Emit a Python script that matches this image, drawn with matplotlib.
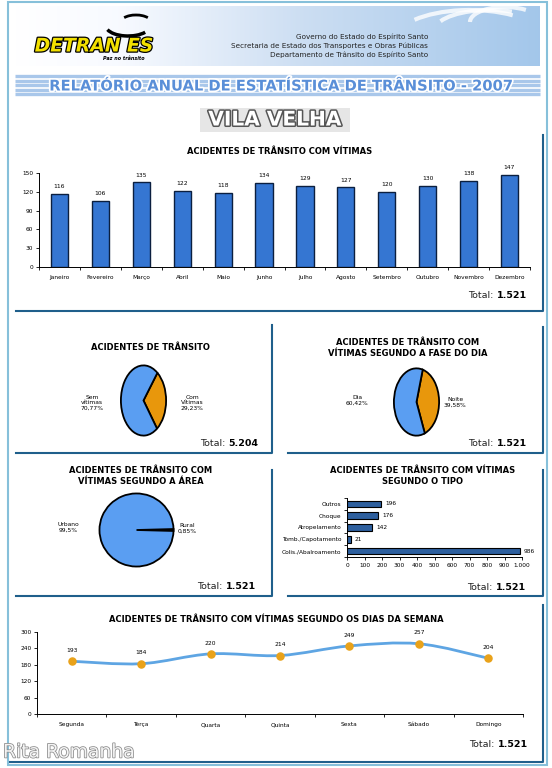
import numpy as np
import matplotlib
matplotlib.use('Agg')
import matplotlib.pyplot as plt
import matplotlib.patheffects as pe
from matplotlib.path import Path
from matplotlib.patches import PathPatch, Rectangle, Arc

W, H = 552, 768

# acidentes de transito com vitimas por mes
meses = ['Janeiro', 'Fevereiro', 'Março', 'Abril', 'Maio', 'Junho', 'Julho',
         'Agosto', 'Setembro', 'Outubro', 'Novembro', 'Dezembro']
vitimas_mes = [116, 106, 135, 122, 118, 134, 129, 127, 120, 130, 138, 147]

# acidentes de transito (%)
acid_labels = ['Com\nVítimas', 'Sem\nvítimas']
acid_pct = [29.23, 70.77]

# fase do dia (%)
fase_labels = ['Noite', 'Dia']
fase_pct = [39.58, 60.42]

# area (%)
area_labels = ['Rural', 'Urbano']
area_pct = [0.85, 99.15]
area_pct_txt = ['0,85%', '99,5%']

# tipo de acidente
tipos = ['Colis./Abalroamento', 'Tomb./Capotamento', 'Atropelamento', 'Choque', 'Outros']
tipos_val = [986, 21, 142, 176, 196]

# dias da semana
dias = ['Segunda', 'Terça', 'Quarta', 'Quinta', 'Sexta', 'Sábado', 'Domingo']
vitimas_dia = [193, 184, 220, 214, 249, 257, 204]

totais = {'geral': '5.204', 'vitimas': '1.521'}

BLUE = '#5a9ef2'
ORANGE = '#e8970c'
FRAME = '#1f5f8b'

fig = plt.figure(figsize=(W / 100, H / 100), dpi=100)
fig.patch.set_facecolor('white')


def px_axes(x0, y0, x1, y1):
    ax = fig.add_axes([x0 / W, 1 - y1 / H, (x1 - x0) / W, (y1 - y0) / H])
    ax.set_facecolor('none')
    return ax


bg = px_axes(0, 0, W, H)
bg.set_xlim(0, W)
bg.set_ylim(H, 0)
bg.axis('off')

# ---- header ----
g = np.linspace(0, 1, 400)
img = np.dstack([np.interp(g, [0, 0.2, 0.55, 1], [1, 0.97, 0.80, 0.64]),
                 np.interp(g, [0, 0.2, 0.55, 1], [1, 0.98, 0.87, 0.78]),
                 np.interp(g, [0, 0.2, 0.55, 1], [1, 1.0, 0.95, 0.92])])
bg.imshow(img, extent=(15, 540, 66, 6), aspect='auto', zorder=0)
for (cx, cy, w, h, t1, t2) in [(470, 40, 150, 60, 200, 330), (490, 30, 110, 40, 190, 320),
                               (505, 22, 70, 30, 180, 330)]:
    bg.add_patch(Arc((cx, cy), w, h, theta1=t1, theta2=t2, color='white', lw=3, alpha=0.8))

# logo
bg.add_patch(Arc((128, 26), 44, 20, theta1=20, theta2=170, color='black', lw=2.5))
bg.add_patch(Arc((136, 22), 30, 14, theta1=200, theta2=340, color='black', lw=2))
bg.text(94, 46, 'DETRAN ES', ha='center', va='center', fontsize=13.5, fontweight='bold',
        style='italic', color='#f2e000',
        path_effects=[pe.withStroke(linewidth=1.8, foreground='black')])
bg.text(124, 58, 'Paz no trânsito', ha='center', va='center', fontsize=3.5,
        fontweight='bold', style='italic')

for yy, s in zip([37, 46, 55], ['Governo do Estado do Espírito Santo',
                                'Secretaria de Estado dos Transportes e Obras Públicas',
                                'Departamento de Trânsito do Espírito Santo']):
    bg.text(428, yy, s, ha='right', va='center', fontsize=5.2, color='#222222')

# title band
for yy in [76, 80.5, 85, 89.5, 94]:
    bg.plot([15, 540], [yy, yy], color='#a9c7ea', lw=2.4, solid_capstyle='butt')
bg.text(282, 86, 'RELATÓRIO ANUAL DE ESTATÍSTICA DE TRÂNSITO - 2007', ha='center',
        va='center', fontsize=10.6, fontweight='heavy', color='#5a8fd8',
        path_effects=[pe.withStroke(linewidth=2.5, foreground='white')])

bg.add_patch(Rectangle((200, 108), 150, 24, facecolor='#e6e6e6', edgecolor='none'))
bg.text(275, 120, 'VILA VELHA', ha='center', va='center', fontsize=14.5, fontweight='bold',
        color='white', path_effects=[pe.withStroke(linewidth=2.2, foreground='#555555')])

# ---- frames ----
bg.add_patch(Rectangle((8, 2), 539, 763, facecolor='none', edgecolor='#86c0da', lw=1.5))
for (x0, y0, x1, y1) in [(16, 135, 543, 311), (16, 325, 272, 453), (288, 327, 543, 453),
                         (16, 470, 272, 596), (288, 470, 543, 596), (10, 605, 543, 762)]:
    bg.plot([x0, x1, x1], [y1, y1, y0], color=FRAME, lw=1.5)


def total(x, y, num):
    t = bg.text(x, y, num, ha='right', va='baseline', fontsize=6.8, fontweight='bold')
    bg.annotate('Total: ', xy=(0, 0), xycoords=t, ha='right', va='bottom', fontsize=6.8,
                color='#222222')


def title(x, y, s):
    bg.text(x, y, s, ha='center', va='center', fontsize=6, fontweight='bold',
            linespacing=1.3)


def style_axes(ax):
    for s in ['top', 'right']:
        ax.spines[s].set_visible(False)
    for s in ['left', 'bottom']:
        ax.spines[s].set_linewidth(0.7)
    ax.tick_params(labelsize=4.2, width=0.6, length=2, pad=2)


# ---- bar chart por mes ----
title(280, 151, 'ACIDENTES DE TRÂNSITO COM VÍTIMAS')
ax1 = px_axes(39, 173, 530, 267)
x = np.arange(len(meses))
ax1.bar(x, vitimas_mes, width=0.42, color='#3576d2', edgecolor='#0b1f3f', linewidth=1.0)
for xi, v in zip(x, vitimas_mes):
    ax1.annotate(str(v), (xi, v), xytext=(0, 3.5), textcoords='offset points',
                 ha='center', va='bottom', fontsize=4.3)
ax1.set_xlim(-0.5, 11.5)
ax1.set_ylim(0, 150)
ax1.set_yticks(range(0, 151, 30))
ax1.set_xticks(x)
ax1.set_xticklabels(meses)
ax1.set_xticks(np.arange(-0.5, 12, 1), minor=True)
style_axes(ax1)
ax1.tick_params(axis='x', which='major', length=0, pad=6)
ax1.tick_params(axis='x', which='minor', length=2.5, width=0.6)
total(527, 298, totais['vitimas'])


# ---- pies ----
def pie(box, vals, start, colors):
    ax = px_axes(*box)
    ax.pie(vals, colors=colors, startangle=start, counterclock=False,
           wedgeprops=dict(edgecolor='black', linewidth=1.3))
    ax.set_aspect('auto')
    ax.set_xlim(-1.04, 1.04)
    ax.set_ylim(-1.04, 1.04)
    return ax


def pct(v):
    return ('%.2f%%' % v).replace('.', ',')


title(150, 348, 'ACIDENTES DE TRÂNSITO')
pie((120, 364, 167, 437), acid_pct, 52, [ORANGE, BLUE])
for (px, py), lab, v in zip([(192, 403), (92, 403)], acid_labels, acid_pct):
    bg.text(px, py, lab + '\n' + pct(v), ha='center', va='center', fontsize=4.3,
            linespacing=1.15)
total(258, 446, totais['geral'])

title(408, 348, 'ACIDENTES DE TRÂNSITO COM\nVÍTIMAS SEGUNDO A FASE DO DIA')
pie((393, 367, 440, 437), fase_pct, 74, [ORANGE, BLUE])
for (px, py), lab, v in zip([(455, 402), (357, 400)], fase_labels, fase_pct):
    bg.text(px, py, lab + '\n' + pct(v), ha='center', va='center', fontsize=4.3,
            linespacing=1.15)
total(527, 446, totais['vitimas'])

title(141, 476, 'ACIDENTES DE TRÂNSITO COM\nVÍTIMAS SEGUNDO A ÁREA')
ax4 = pie((98, 492, 175, 568), area_pct, area_pct[0] * 1.8, [ORANGE, BLUE])
for (px, py), lab, s in zip([(187, 528), (68, 527)], area_labels, area_pct_txt):
    bg.text(px, py, lab + '\n' + s, ha='center', va='center', fontsize=4.3,
            linespacing=1.15)
total(256, 589, totais['vitimas'])

# ---- tipo ----
title(423, 476, 'ACIDENTES DE TRÂNSITO COM VÍTIMAS\nSEGUNDO O TIPO')
ax5 = px_axes(347, 498, 522, 557)
y = np.arange(len(tipos))
ax5.barh(y, tipos_val, height=0.55, color='#2d5f9e', edgecolor='black', linewidth=0.8)
for yi, v in zip(y, tipos_val):
    ax5.annotate(str(v), (v, yi), xytext=(3, 0), textcoords='offset points',
                 ha='left', va='center', fontsize=4.2)
ax5.set_xlim(0, 1000)
ax5.set_ylim(-0.5, 4.5)
ax5.set_xticks(range(0, 1001, 100))
ax5.set_xticklabels([('{:,}'.format(v)).replace(',', '.') for v in range(0, 1001, 100)])
ax5.set_yticks(y)
ax5.set_yticklabels(tipos)
ax5.set_yticks(np.arange(-0.5, 5, 1), minor=True)
style_axes(ax5)
ax5.tick_params(axis='y', which='major', length=0, pad=4)
ax5.tick_params(axis='y', which='minor', length=2, width=0.6)
total(526, 590, totais['vitimas'])

# ---- dias da semana ----
title(276, 620, 'ACIDENTES DE TRÂNSITO COM VÍTIMAS SEGUNDO OS DIAS DA SEMANA')
ax6 = px_axes(37, 632, 523, 714)
xd = np.arange(len(dias), dtype=float)
pts = np.column_stack([xd, vitimas_dia])
ext = np.vstack([pts[0], pts, pts[-1]])
verts = [pts[0]]
codes = [Path.MOVETO]
for i in range(len(pts) - 1):
    p0, p1, p2, p3 = ext[i], ext[i + 1], ext[i + 2], ext[i + 3]
    verts += [p1 + (p2 - p0) / 6, p2 - (p3 - p1) / 6, p2]
    codes += [Path.CURVE4] * 3
ax6.add_patch(PathPatch(Path(verts, codes), fill=False, edgecolor='#5ea5e3', lw=2))
ax6.scatter(xd, vitimas_dia, s=26, color='#e9a21a', zorder=3)
for xi, v in zip(xd, vitimas_dia):
    ax6.annotate(str(v), (xi, v), xytext=(0, 6), textcoords='offset points',
                 ha='center', va='bottom', fontsize=4.3)
ax6.set_xlim(-0.5, 6.5)
ax6.set_ylim(0, 300)
ax6.set_yticks(range(0, 301, 60))
ax6.set_xticks(xd)
ax6.set_xticklabels(dias)
ax6.set_xticks(np.arange(-0.5, 7, 1), minor=True)
style_axes(ax6)
ax6.tick_params(axis='x', which='major', length=0, pad=6)
ax6.tick_params(axis='x', which='minor', length=2.5, width=0.6)
total(528, 747, totais['vitimas'])

bg.text(3, 752, 'Rita Romanha', ha='left', va='center', fontsize=13.5, color='#f4f4f4',
        path_effects=[pe.withStroke(linewidth=1.1, foreground='#8a8a8a')], zorder=5)

fig.savefig('out.png', dpi=100)
